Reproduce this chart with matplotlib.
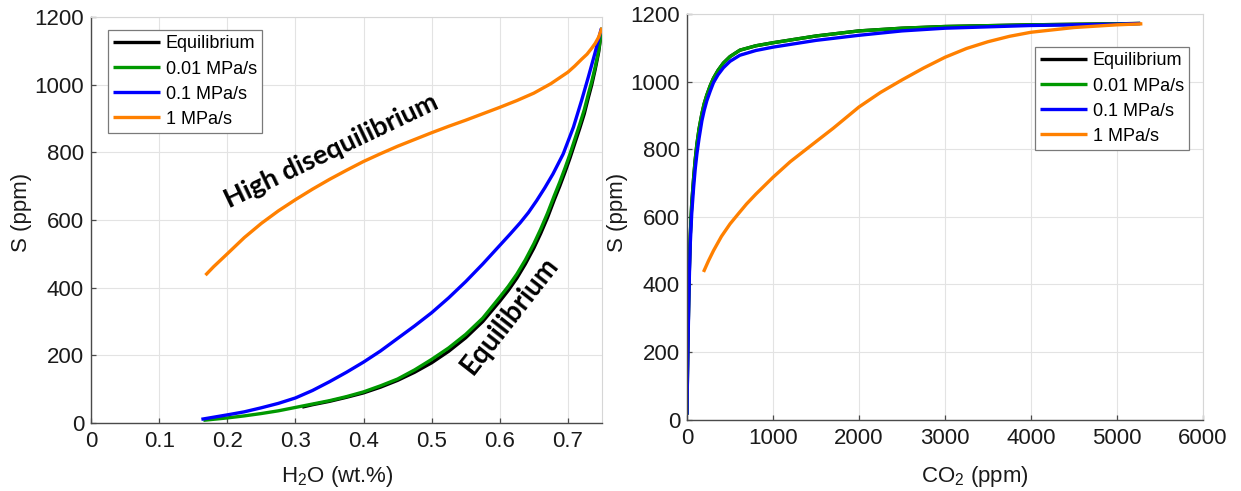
import matplotlib
matplotlib.use('Agg')
import matplotlib.pyplot as plt

plt.rcParams['font.family'] = ['Liberation Sans', 'DejaVu Sans']
plt.rcParams['mathtext.fontset'] = 'custom'
plt.rcParams['mathtext.rm'] = 'Liberation Sans'
plt.rcParams['mathtext.it'] = 'Liberation Sans:italic'
plt.rcParams['mathtext.bf'] = 'Liberation Sans:bold'

# ---------------- data: left panel (H2O vs S) ----------------
series_labels = ['Equilibrium', '0.01 MPa/s', '0.1 MPa/s', '1 MPa/s']
series_colors = ['#000000', '#009900', '#0000ff', '#ff8000']

eq_h2o = [0.31, 0.325, 0.35, 0.375, 0.40, 0.425, 0.45, 0.475, 0.50, 0.525, 0.55, 0.575, 0.60, 0.6125,
          0.625, 0.6375, 0.65, 0.66, 0.67, 0.68, 0.688, 0.696, 0.703, 0.71, 0.7175, 0.724, 0.73,
          0.735, 0.74, 0.745, 0.75]
eq_s_h = [47, 54, 64, 76, 89, 106, 126, 150, 178, 212, 252, 300, 360, 392,
          428, 470, 517, 560, 607, 660, 700, 743, 783, 826, 872, 914, 962,
          1000, 1045, 1095, 1168]

r001_h2o = [0.165, 0.20, 0.225, 0.25, 0.275, 0.30, 0.325, 0.35, 0.375, 0.40, 0.425, 0.45, 0.475,
            0.50, 0.525, 0.55, 0.575, 0.60, 0.6125, 0.625, 0.6375, 0.65, 0.66, 0.67, 0.68, 0.688,
            0.696, 0.703, 0.71, 0.7175, 0.724, 0.73, 0.735, 0.74, 0.745, 0.75]
r001_s_h = [8, 15, 21, 28, 36, 46, 56, 66, 78, 92, 110, 130, 157,
            188, 222, 262, 310, 372, 404, 440, 482, 530, 573, 620, 672, 712,
            755, 795, 838, 884, 926, 973, 1010, 1052, 1100, 1168]

r01_h2o = [0.162, 0.20, 0.225, 0.25, 0.275, 0.30, 0.325, 0.35, 0.375, 0.40, 0.425, 0.45, 0.475,
           0.50, 0.525, 0.55, 0.575, 0.60, 0.615, 0.63, 0.642, 0.654, 0.666, 0.678, 0.693,
           0.708, 0.72, 0.73, 0.7395, 0.749]
r01_s_h = [11, 24, 33, 45, 58, 74, 96, 122, 150, 180, 213, 250, 287,
           326, 370, 418, 470, 525, 558, 592, 622, 657, 695, 736, 795,
           874, 953, 1023, 1092, 1166]

r1_h2o = [0.168, 0.18, 0.20, 0.225, 0.25, 0.275, 0.30, 0.325, 0.35, 0.375, 0.40, 0.425, 0.45,
          0.475, 0.50, 0.525, 0.55, 0.575, 0.60, 0.625, 0.65, 0.675, 0.70, 0.71, 0.72, 0.728,
          0.735, 0.74, 0.745, 0.75]
r1_s_h = [437, 462, 500, 548, 590, 627, 660, 691, 720, 747, 773, 796, 818,
          838, 858, 877, 895, 914, 933, 953, 975, 1003, 1037, 1055, 1075, 1090,
          1108, 1122, 1140, 1168]

# ---------------- data: right panel (CO2 vs S) ----------------
eq_co2 = [0, 5, 10, 19, 28, 38, 55, 77, 95, 115, 140, 173, 200, 230, 270, 308, 360, 423, 500,
          615, 800, 1000, 1500, 2000, 2500, 3000, 4000, 5000, 5270]
eq_s_c = [15, 130, 215, 340, 450, 545, 640, 715, 768, 815, 860, 905, 935, 960, 988, 1010, 1033,
          1055, 1074, 1093, 1106, 1115, 1135, 1150, 1158, 1163, 1168, 1171, 1172]

r001_co2 = [0, 5, 10, 19, 28, 38, 55, 77, 95, 115, 140, 173, 200, 230, 270, 308, 360, 423, 500,
            615, 800, 1000, 1500, 2000, 2500, 3000, 4000, 5000, 5270]
r001_s_c = [15, 130, 215, 340, 450, 545, 640, 715, 768, 815, 860, 905, 935, 960, 988, 1010, 1033,
            1055, 1074, 1093, 1106, 1115, 1135, 1150, 1158, 1163, 1168, 1171, 1172]

r01_co2 = [0, 5, 10, 19, 28, 38, 55, 77, 95, 115, 140, 173, 200, 230, 270, 308, 360, 423, 500,
           615, 800, 1000, 1500, 2000, 2500, 3000, 4000, 5000, 5270]
r01_s_c = [15, 120, 200, 324, 430, 520, 610, 687, 740, 786, 832, 884, 915, 943, 972, 997, 1020,
           1041, 1060, 1078, 1092, 1102, 1122, 1137, 1150, 1158, 1166, 1170, 1172]

r1_co2 = [192, 250, 308, 400, 500, 600, 692, 800, 1000, 1200, 1462, 1700, 2000, 2250, 2500,
          2750, 3000, 3250, 3500, 3750, 4000, 4500, 5000, 5295]
r1_s_c = [437, 470, 500, 542, 579, 610, 638, 667, 717, 763, 815, 862, 925, 968, 1005,
          1040, 1072, 1098, 1118, 1134, 1146, 1160, 1168, 1171]

left_xticks = [0, 0.1, 0.2, 0.3, 0.4, 0.5, 0.6, 0.7]
left_xticklabels = ['0', '0.1', '0.2', '0.3', '0.4', '0.5', '0.6', '0.7']
right_xticks = [0, 1000, 2000, 3000, 4000, 5000, 6000]
yticks = [0, 200, 400, 600, 800, 1000, 1200]

W, H = 1241, 491
fig = plt.figure(figsize=(W / 100, H / 100), dpi=100)

def px_axes(x0, x1, ytop, ybot):
    return fig.add_axes([x0 / W, 1 - ybot / H, (x1 - x0) / W, (ybot - ytop) / H])

ax1 = px_axes(91, 602, 17, 423)
ax2 = px_axes(687, 1203, 14, 419.7)

def style(ax):
    ax.grid(True, color='#e3e3e3', linewidth=0.8)
    ax.set_axisbelow(True)
    for s in ['left', 'bottom']:
        ax.spines[s].set_color('#4a4a4a')
        ax.spines[s].set_linewidth(1.0)
    for s in ['top', 'right']:
        ax.spines[s].set_color('#d6d6d6')
        ax.spines[s].set_linewidth(0.8)
    ax.tick_params(direction='in', length=3.5, width=0.9, color='#4a4a4a',
                   labelsize=16, labelcolor='#1a1a1a', top=False, right=False)
    ax.tick_params(axis='x', pad=6)
    ax.tick_params(axis='y', pad=5)
    ax.set_yticks(yticks)
    ax.set_ylim(0, 1200)

lw = 2.4
left_data = [(eq_h2o, eq_s_h), (r001_h2o, r001_s_h), (r01_h2o, r01_s_h), (r1_h2o, r1_s_h)]
right_data = [(eq_co2, eq_s_c), (r001_co2, r001_s_c), (r01_co2, r01_s_c), (r1_co2, r1_s_c)]

for (xs, ys), lab, col in zip(left_data, series_labels, series_colors):
    ax1.plot(xs, ys, color=col, lw=lw, label=lab, solid_capstyle='butt', solid_joinstyle='round')
for (xs, ys), lab, col in zip(right_data, series_labels, series_colors):
    ax2.plot(xs, ys, color=col, lw=lw, label=lab, solid_capstyle='butt', solid_joinstyle='round')

style(ax1)
style(ax2)
ax1.set_xlim(0, 0.75)
ax1.set_xticks(left_xticks)
ax1.set_xticklabels(left_xticklabels)
ax2.set_xlim(0, 6000)
ax2.set_xticks(right_xticks)

leg_kw = dict(fontsize=13, frameon=True, fancybox=False, framealpha=1,
              edgecolor='#7a7a7a', handlelength=2.6, handletextpad=0.3,
              labelspacing=0.45, borderpad=0.3, borderaxespad=0)
l1 = ax1.legend(loc='upper left', bbox_to_anchor=(108 / W, 1 - 30 / H),
                bbox_transform=fig.transFigure, **leg_kw)
l2 = ax2.legend(loc='upper left', bbox_to_anchor=(1035 / W, 1 - 47 / H),
                bbox_transform=fig.transFigure, **leg_kw)
for l in (l1, l2):
    l.get_frame().set_linewidth(0.9)

# axis labels
fig.text(21 / W, 1 - 212 / H, 'S (ppm)', rotation=90, ha='center', va='center', fontsize=16, color='#1a1a1a')
fig.text(617 / W, 1 - 212 / H, 'S (ppm)', rotation=90, ha='center', va='center', fontsize=16, color='#1a1a1a')
fig.text(337 / W, 1 - 482 / H, 'H$_2$O (wt.%)', ha='center', va='baseline', fontsize=16, color='#1a1a1a')
fig.text(975 / W, 1 - 482 / H, 'CO$_2$ (ppm)', ha='center', va='baseline', fontsize=16, color='#1a1a1a')

# annotations
ax1.text(0.352, 803, 'High disequilibrium', rotation=25.5, rotation_mode='anchor',
         ha='center', va='center', fontsize=19.5, fontweight='bold', family='Lato', color='black')
ax1.text(0.614, 317, 'Equilibrium', rotation=52, rotation_mode='anchor',
         ha='center', va='center', fontsize=20, fontweight='bold', family='Lato', color='black')

fig.savefig('out.png', dpi=100)
